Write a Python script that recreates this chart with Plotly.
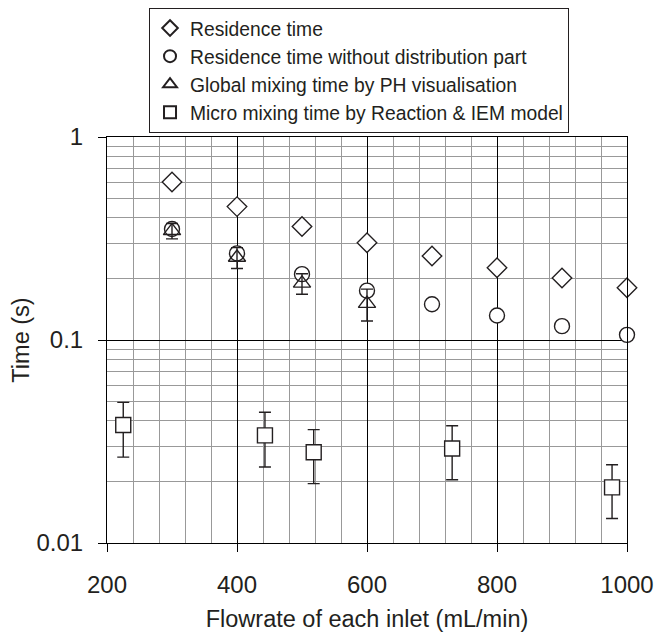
import plotly.graph_objects as go

# Data
flow_main = [300, 400, 500, 600, 700, 800, 900, 1000]
residence_time = [0.60, 0.454, 0.362, 0.301, 0.259, 0.227, 0.202, 0.181]
residence_no_dist = [0.352, 0.267, 0.211, 0.175, 0.150, 0.132, 0.117, 0.106]

flow_global = [300, 400, 500, 600]
global_mixing = [0.345, 0.255, 0.190, 0.151]
global_err = [0.030, 0.030, 0.022, 0.027]

flow_micro = [225, 443, 518, 731, 977]
micro_mixing = [0.0381, 0.0339, 0.0280, 0.0292, 0.0188]
micro_err_plus = [0.0112, 0.0102, 0.0082, 0.0086, 0.0055]
micro_err_minus = [0.0116, 0.0102, 0.0084, 0.0087, 0.0056]

names = [
    "Residence time",
    "Residence time without distribution part",
    "Global mixing time by PH visualisation",
    "Micro mixing time by Reaction & IEM model",
]

FONT = "Arial, Liberation Sans, sans-serif"
INK = "#231f20"

fig = go.Figure()
mk = dict(color="white", size=15, line=dict(color=INK, width=1.4))

fig.add_trace(go.Scatter(x=flow_main, y=residence_time, mode="markers", name=names[0],
                         legendgroup="a", cliponaxis=False,
                         marker=dict(symbol="diamond", **mk)))
fig.add_trace(go.Scatter(x=flow_main, y=residence_no_dist, mode="markers", name=names[1],
                         legendgroup="b", cliponaxis=False,
                         marker=dict(symbol="circle", **mk)))
fig.add_trace(go.Scatter(x=flow_global, y=global_mixing, mode="markers", name=names[2],
                         legendgroup="c", cliponaxis=False,
                         marker=dict(symbol="triangle-up-open", color=INK, size=15,
                                     line=dict(color=INK, width=1.4)),
                         error_y=dict(type="data", array=global_err, color=INK, thickness=1.4, width=6)))
fig.add_trace(go.Scatter(x=flow_micro, y=micro_mixing, mode="markers", name=names[3],
                         legendgroup="d", cliponaxis=False,
                         marker=dict(symbol="square", **mk),
                         error_y=dict(type="data", symmetric=False, array=micro_err_plus,
                                      arrayminus=micro_err_minus, color=INK, thickness=1.4, width=6)))

fig.update_layout(
    width=670, height=633,
    margin=dict(l=99, r=51, t=129, b=98, pad=0),
    paper_bgcolor="white", plot_bgcolor="white",
    font=dict(family=FONT, color=INK, size=20),
    showlegend=True,
    legend=dict(x=0.0808, y=1.0, xref="paper", yref="container",
                xanchor="left", yanchor="top",
                bordercolor=INK, borderwidth=1, bgcolor="white",
                font=dict(family=FONT, size=19.3, color=INK),
                itemsizing="constant", itemwidth=30, tracegroupgap=5,
                traceorder="normal"),
)

fig.update_xaxes(
    range=[200, 1000], dtick=200, tick0=200,
    showgrid=True, gridcolor="black", gridwidth=1,
    showline=True, linecolor="black", linewidth=1, mirror=True,
    ticks="outside", ticklen=8, tickcolor="black", ticklabelstandoff=12,
    tickfont=dict(size=24, family=FONT, color=INK),
    minor=dict(dtick=40, showgrid=True, gridcolor="#999999", gridwidth=1),
    title=dict(text="Flowrate of each inlet (mL/min)", font=dict(size=23.5, family=FONT, color=INK), standoff=13),
    zeroline=False, automargin=False,
)
fig.update_yaxes(
    type="log", range=[-2, 0],
    tickvals=[0.01, 0.1, 1], ticktext=["0.01", "0.1", "1"],
    showgrid=True, gridcolor="black", gridwidth=1,
    showline=True, linecolor="black", linewidth=1, mirror=True,
    ticks="outside", ticklen=8, tickcolor="black", ticklabelstandoff=10,
    tickfont=dict(size=24, family=FONT, color=INK),
    minor=dict(dtick="D1", showgrid=True, gridcolor="#999999", gridwidth=1),
    title=dict(text="Time (s)", font=dict(size=23.5, family=FONT, color=INK), standoff=1),
    zeroline=False, automargin=False,
)

fig.write_html("out.html")
